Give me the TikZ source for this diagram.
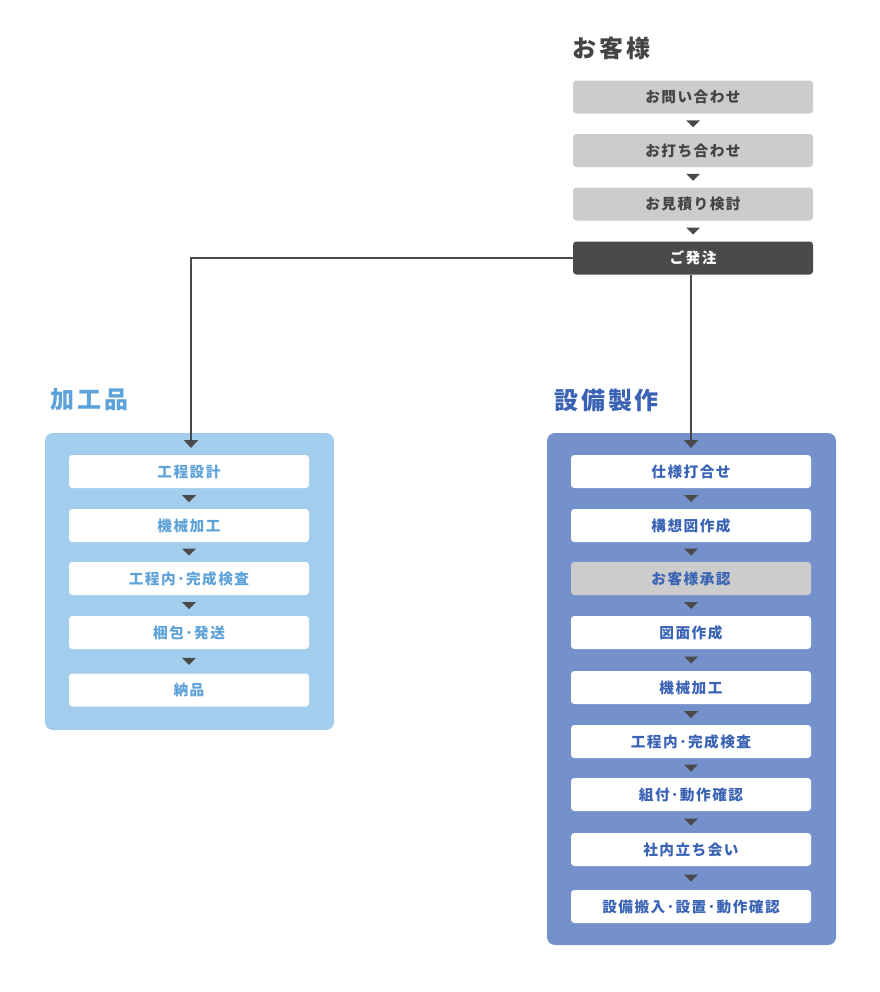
\documentclass[tikz,border=0pt]{standalone}
\usepackage{fontspec}
\setmainfont{Noto Sans CJK JP}
\newfontfamily\boxfont{Noto Sans CJK JP}[LetterSpace=10]
\newfontfamily\headfont{Noto Sans CJK JP}[LetterSpace=12]
\usetikzlibrary{arrows.meta,calc}

\definecolor{custgray}{HTML}{CCCCCC}
\definecolor{darkbox}{HTML}{4A4A4A}
\definecolor{textgray}{HTML}{444444}
\definecolor{kakopanel}{HTML}{A3CDEC}
\definecolor{kakotext}{HTML}{5EA2DA}
\definecolor{setsupanel}{HTML}{7591CC}
\definecolor{setsutext}{HTML}{3A63B5}

\tikzset{
  stepbox/.style={rounded corners=2.5pt, minimum width=180pt, minimum height=24.75pt,
    inner sep=0pt, font=\boxfont\bfseries\fontsize{11}{12}\selectfont},
  custbox/.style={stepbox, fill=custgray, text=textgray},
  orderbox/.style={stepbox, fill=darkbox, text=white},
  kakobox/.style={stepbox, fill=white, text=kakotext},
  setsubox/.style={stepbox, fill=white, text=setsutext},
  approvebox/.style={stepbox, fill=custgray, text=setsutext},
  heading/.style={anchor=west, inner sep=0pt, font=\headfont\bfseries\fontsize{18}{20}\selectfont},
  feed/.style={draw=darkbox, line width=1.5pt, -{Triangle[width=10.5pt,length=6pt]}}
}

% small down-pointing triangle between two boxes
\newcommand\steptri[2]{%
  \fill[darkbox] ($(#1.south)!0.5!(#2.north)+(-7,-3.5)$) -- ++(14,0)
    -- ($(#1.south)!0.5!(#2.north)+(0,3.5)$) -- cycle;}

\begin{document}
\begin{tikzpicture}[x=0.75pt,y=-0.75pt]
  \useasboundingbox (0,0) rectangle (880,992);

  % customer side
  \node[heading, text=textgray] (custtitle) at (572,48) {お客様};
  \node[custbox] (ask) at (693,97) {お問い合わせ};
  \node[custbox] (meet) at (693,150.5) {お打ち合わせ};
  \node[custbox] (quote) at (693,204) {お見積り検討};
  \node[orderbox] (order) at (693,258) {ご発注};
  \steptri{ask}{meet}
  \steptri{meet}{quote}
  \steptri{quote}{order}

  % panels
  \fill[kakopanel, rounded corners=6pt] (45,433) rectangle (334,730);
  \fill[setsupanel, rounded corners=6pt] (547,433) rectangle (836,945);
  \node[heading, text=kakotext] (kakotitle) at (50,400) {加工品};
  \node[heading, text=setsutext] (setsutitle) at (554,400) {設備製作};

  % processed parts
  \node[kakobox] (kdesign) at (189,471.5) {工程設計};
  \node[kakobox] (kmachine) at (189,525.5) {機械加工};
  \node[kakobox] (kinspect) at (189,578.5) {工程内･完成検査};
  \node[kakobox] (kship) at (189,632.5) {梱包･発送};
  \node[kakobox] (kdeliver) at (189,690) {納品};
  \steptri{kdesign}{kmachine}
  \steptri{kmachine}{kinspect}
  \steptri{kinspect}{kship}
  \steptri{kship}{kdeliver}

  % equipment
  \node[setsubox] (sspec) at (691,471.5) {仕様打合せ};
  \node[setsubox] (sconcept) at (691,525.5) {構想図作成};
  \node[approvebox] (sapprove) at (691,578.5) {お客様承認};
  \node[setsubox] (sdrawing) at (691,632.5) {図面作成};
  \node[setsubox] (smachine) at (691,687.5) {機械加工};
  \node[setsubox] (sinspect) at (691,741.5) {工程内･完成検査};
  \node[setsubox] (sassembly) at (691,794.5) {組付･動作確認};
  \node[setsubox] (switness) at (691,849.5) {社内立ち会い};
  \node[setsubox] (sinstall) at (691,906.5) {設備搬入･設置･動作確認};
  \steptri{sspec}{sconcept}
  \steptri{sconcept}{sapprove}
  \steptri{sapprove}{sdrawing}
  \steptri{sdrawing}{smachine}
  \steptri{smachine}{sinspect}
  \steptri{sinspect}{sassembly}
  \steptri{sassembly}{switness}
  \steptri{switness}{sinstall}

  % order feeds both lines
  \coordinate (kakoin) at (191,448);
  \coordinate (setsuin) at (691,448);
  \draw[feed] (order.west) -| (kakoin);
  \draw[feed] (order.south -| setsuin) -- (setsuin);
\end{tikzpicture}
\end{document}
